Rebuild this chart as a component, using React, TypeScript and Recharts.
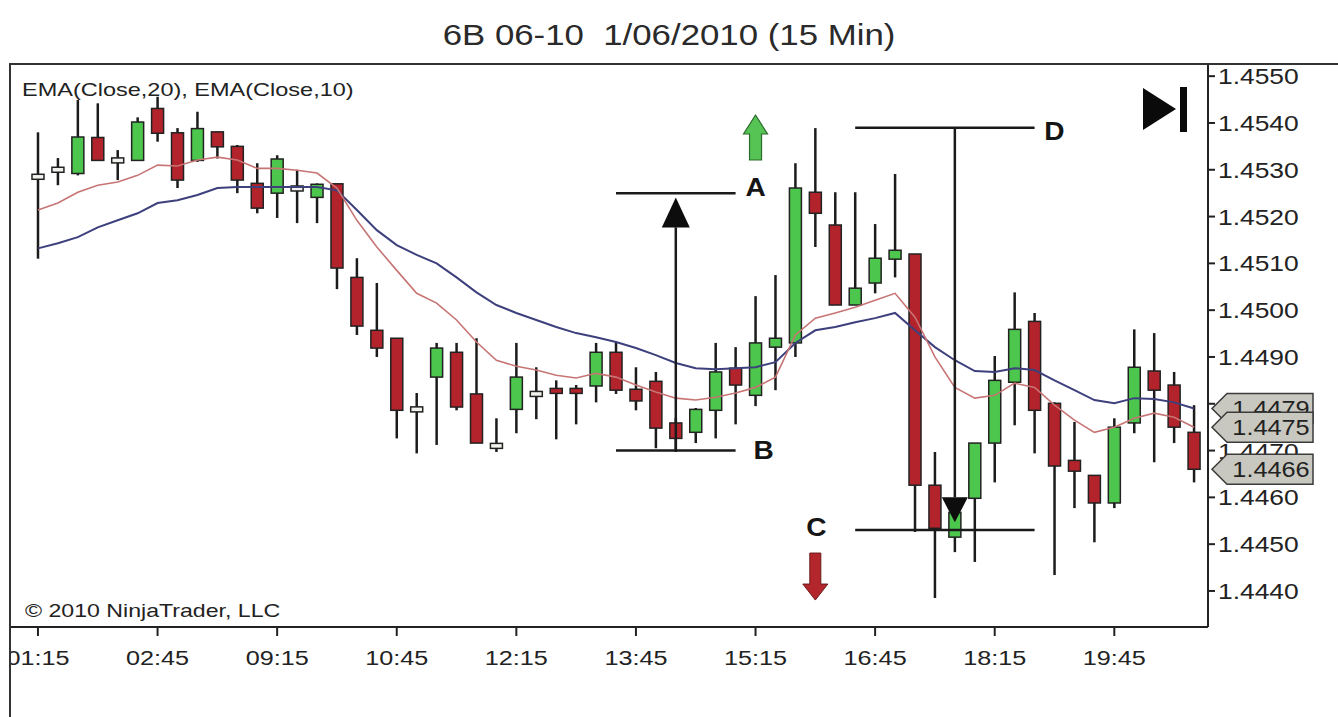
import React from 'react';
import { ComposedChart, Bar, Line, XAxis, YAxis, ReferenceLine, ReferenceDot } from 'recharts';

const FONT = '"Liberation Sans", Arial, sans-serif';

const times = ['01:15','01:30','01:45','02:00','02:15','02:30','02:45','03:00','03:15','03:30','03:45','09:00','09:15','09:30','09:45','10:00','10:15','10:30','10:45','11:00','11:15','11:30','11:45','12:00','12:15','12:30','12:45','13:00','13:15','13:30','13:45','14:00','14:15','14:30','14:45','15:00','15:15','15:30','15:45','16:00','16:15','16:30','16:45','17:00','17:15','17:30','17:45','18:00','18:15','18:30','18:45','19:00','19:15','19:30','19:45','20:00','20:15','20:30','20:45'];

const openP = [1.45285,1.4530,1.45292,1.45369,1.4532,1.4532,1.45431,1.45379,1.4532,1.45381,1.4535,1.45271,1.4525,1.4526,1.45241,1.4527,1.4507,1.44957,1.4494,1.44788,1.44857,1.4491,1.44821,1.4471,1.44788,1.44821,1.4483,1.4483,1.44838,1.4491,1.44831,1.44848,1.44759,1.44739,1.44786,1.44876,1.44818,1.44921,1.4493,1.45252,1.45182,1.45011,1.45058,1.45109,1.4512,1.44626,1.44515,1.44598,1.44716,1.44846,1.44976,1.44801,1.44679,1.44647,1.44588,1.44759,1.4487,1.4484,1.44739];
const highP = [1.4538,1.45325,1.45449,1.45442,1.45342,1.45412,1.45456,1.45389,1.45424,1.45381,1.45353,1.45314,1.45331,1.4530,1.45271,1.4527,1.45111,1.45058,1.4494,1.44823,1.4493,1.4493,1.4494,1.44769,1.4493,1.44878,1.4485,1.4484,1.4493,1.44932,1.44878,1.44868,1.4477,1.44791,1.4493,1.44921,1.4503,1.45075,1.45314,1.45389,1.45252,1.45252,1.45184,1.45291,1.4512,1.44697,1.4458,1.44716,1.44902,1.45038,1.44994,1.44803,1.44761,1.44647,1.44769,1.44959,1.44951,1.44868,1.44797];
const lowP = [1.4511,1.45267,1.45288,1.4532,1.45278,1.4532,1.4536,1.45261,1.45317,1.45324,1.4525,1.45207,1.45197,1.45186,1.45186,1.45045,1.44947,1.4490,1.44726,1.44694,1.44712,1.44786,1.44716,1.44697,1.44737,1.44767,1.44724,1.44756,1.44803,1.44821,1.44786,1.44705,1.44697,1.44716,1.44726,1.44756,1.44795,1.44829,1.4490,1.45135,1.45011,1.45011,1.45036,1.4507,1.44526,1.44385,1.44483,1.44462,1.44632,1.44754,1.44694,1.44434,1.44577,1.44504,1.44577,1.44737,1.44675,1.44716,1.44632];
const closeP = [1.45285,1.4530,1.4537,1.4532,1.4532,1.45402,1.45378,1.45278,1.45388,1.45349,1.45278,1.45218,1.45323,1.4526,1.45269,1.4509,1.44966,1.44919,1.44786,1.44788,1.44919,1.44793,1.44716,1.4471,1.44857,1.44821,1.44825,1.44825,1.4491,1.44829,1.44806,1.44748,1.44726,1.44788,1.44868,1.4484,1.4493,1.4494,1.45261,1.45207,1.45011,1.45047,1.45111,1.45128,1.44626,1.44534,1.44568,1.44716,1.4485,1.44959,1.44786,1.44667,1.44656,1.44588,1.4475,1.44878,1.44829,1.4475,1.4466];
const ema20 = [1.45132,1.45143,1.45156,1.45177,1.45192,1.45207,1.45229,1.45235,1.45246,1.45261,1.45263,1.45263,1.45263,1.45263,1.45263,1.45256,1.45214,1.45171,1.45139,1.45118,1.4510,1.4507,1.45038,1.45011,1.44994,1.44979,1.44964,1.44951,1.44942,1.44932,1.44919,1.44904,1.44887,1.44876,1.44874,1.44876,1.44878,1.44889,1.4493,1.44957,1.44964,1.44974,1.44983,1.44994,1.44957,1.44921,1.44893,1.4487,1.44868,1.44876,1.44872,1.4485,1.44829,1.44808,1.44801,1.44812,1.4481,1.44803,1.4479];
const ema10 = [1.45214,1.45229,1.45252,1.45267,1.45274,1.45288,1.4531,1.45308,1.45321,1.45327,1.45321,1.45303,1.45303,1.45299,1.45293,1.45261,1.45192,1.45135,1.45085,1.45036,1.45015,1.44979,1.44932,1.44893,1.4488,1.44872,1.44861,1.44855,1.44865,1.44857,1.4484,1.44825,1.44812,1.44808,1.44814,1.44823,1.44835,1.44857,1.44947,1.44983,1.44994,1.45006,1.45021,1.45036,1.44985,1.449,1.44835,1.44812,1.44818,1.44844,1.44835,1.44797,1.44765,1.44739,1.4475,1.44769,1.4478,1.44771,1.4475];

const xTickLabels = ['01:15','02:45','09:15','10:45','12:15','13:45','15:15','16:45','18:15','19:45'];
const yTicks = [1.444,1.445,1.446,1.447,1.448,1.449,1.45,1.451,1.452,1.453,1.454,1.455];
const priceTags = [1.4479, 1.4475, 1.4466];

const levelA = 1.4525;
const levelB = 1.4470;
const levelC = 1.4453;
const levelD = 1.4539;

const Y_DOMAIN: [number, number] = [1.44323, 1.45526];
const AXIS_W = 129;

const data = times.map((t, i) => ({
  time: t,
  open: openP[i],
  high: highP[i],
  low: lowP[i],
  close: closeP[i],
  range: [lowP[i], highP[i]],
  ema20: ema20[i],
  ema10: ema10[i],
}));

const Candle = (props: any) => {
  const { x, y, width, height, payload } = props;
  if (!payload) return null;
  const top = Math.min(y, y + height);
  const h = Math.abs(height);
  const { open, close, high, low } = payload;
  const ppp = h / (high - low || 1e-9);
  const cx = x + width / 2;
  let bTop = top + (high - Math.max(open, close)) * ppp;
  let bBot = top + (high - Math.min(open, close)) * ppp;
  let fill = close > open ? '#4cc64c' : '#b3232b';
  if (open === close) fill = '#f2f2ee';
  if (bBot - bTop < 4) {
    const m = (bTop + bBot) / 2;
    bTop = m - 2.5;
    bBot = m + 2.5;
  }
  const bw = 12;
  return (
    <g>
      <line x1={cx} x2={cx} y1={top} y2={top + h} stroke="#1b1b1b" strokeWidth={2.5} />
      <rect x={cx - bw / 2} y={bTop} width={bw} height={bBot - bTop} fill={fill} stroke="#222" strokeWidth={1.5} />
    </g>
  );
};

const XTick = (props: any) => {
  const { x, y, payload } = props;
  return (
    <text transform={`translate(${x},${y}) scale(1.2,1)`} x={0} y={0} dy={27} textAnchor="middle" fontSize={21} fill="#222" fontFamily={FONT}>
      {payload.value}
    </text>
  );
};

const YTick = (props: any) => {
  const { x, y, payload } = props;
  return (
    <text transform={`translate(${x},${y}) scale(1.2,1)`} x={0} y={0} dy={8} textAnchor="start" fontSize={22} fill="#222" fontFamily={FONT}>
      {Number(payload.value).toFixed(4)}
    </text>
  );
};

// Price tag drawn as a tick of an outer thin axis, so it paints above the price-axis labels
const PriceTag = (props: any) => {
  const { x, y, payload } = props;
  const ax = x - AXIS_W - 1;
  const cy = y;
  const x0 = ax + 5;
  const x1 = x0 + 15;
  const x2 = ax + 106;
  const hh = 15;
  return (
    <g>
      <path d={`M${x0},${cy} L${x1},${cy - hh} L${x2},${cy - hh} L${x2},${cy + hh} L${x1},${cy + hh} Z`} fill="#c8c8c0" stroke="#3a3a3a" strokeWidth={1.5} />
      <text transform={`translate(${(x1 + x2) / 2 + 1},${cy}) scale(1.15,1)`} dy={8} textAnchor="middle" fontSize={22} fill="#222" fontFamily={FONT}>
        {Number(payload.value).toFixed(4)}
      </text>
    </g>
  );
};

const LetterLabel = (text: string, dx: number) => (p: any) => (
  <text transform={`translate(${p.cx + dx},${p.cy}) scale(1.08,1)`} dy={9} textAnchor="middle" fontSize={26} fontWeight="bold" fill="#151515" fontFamily={FONT}>
    {text}
  </text>
);

const UpTriangle = (p: any) => (
  <path d={`M${p.cx},${p.cy} L${p.cx + 14},${p.cy + 30} L${p.cx - 14},${p.cy + 30} Z`} fill="#0d0d0d" />
);
const DownTriangle = (p: any) => (
  <path d={`M${p.cx - 13},${p.cy} L${p.cx + 13},${p.cy} L${p.cx},${p.cy + 25} Z`} fill="#0d0d0d" />
);
const GreenArrow = (p: any) => {
  const c = p.cx, t = p.cy, b = t + 45, hh = 19, hw = 12, sw = 6;
  return (
    <path d={`M${c},${t} L${c + hw},${t + hh} L${c + sw},${t + hh} L${c + sw},${b} L${c - sw},${b} L${c - sw},${t + hh} L${c - hw},${t + hh} Z`} fill="#55c455" stroke="#2b6a2b" strokeWidth={1.2} />
  );
};
const RedArrow = (p: any) => {
  const c = p.cx, t = p.cy, b = t + 47, hh = 16, hw = 12.5, sw = 5.5;
  return (
    <path d={`M${c - sw},${t} L${c + sw},${t} L${c + sw},${b - hh} L${c + hw},${b - hh} L${c},${b} L${c - hw},${b - hh} L${c - sw},${b - hh} Z`} fill="#b3262b" stroke="#6a1a1a" strokeWidth={1} />
  );
};

export default function App() {
  return (
    <div style={{ position: 'absolute', left: 0, top: 0, width: 1338, height: 717, background: '#fff', fontFamily: FONT, overflow: 'hidden' }}>
      <div style={{ position: 'absolute', left: 0, top: 19, width: 1338, textAlign: 'center', fontSize: 29, color: '#2a2a2a', transform: 'scaleX(1.2)', whiteSpace: 'pre' }}>
        {'6B 06-10  1/06/2010 (15 Min)'}
      </div>
      <ComposedChart width={1338} height={717} data={data} margin={{ top: 64, right: 0, bottom: 40, left: 10 }} style={{ position: 'absolute', left: 0, top: 0 }}>
        <XAxis
          dataKey="time"
          type="category"
          ticks={xTickLabels}
          interval={0}
          padding={{ left: 18, right: 4 }}
          height={50}
          axisLine={{ stroke: '#222', strokeWidth: 2 }}
          tickLine={{ stroke: '#222', strokeWidth: 2 }}
          tickSize={9}
          tick={<XTick />}
        />
        <YAxis
          orientation="right"
          type="number"
          domain={Y_DOMAIN}
          allowDataOverflow
          ticks={yTicks}
          interval={0}
          width={AXIS_W}
          axisLine={{ stroke: '#222', strokeWidth: 2 }}
          tickLine={{ stroke: '#222', strokeWidth: 2 }}
          tickSize={7}
          tickMargin={3}
          tick={<YTick />}
        />
        <YAxis
          yAxisId="tags"
          orientation="right"
          type="number"
          domain={Y_DOMAIN}
          allowDataOverflow
          ticks={priceTags}
          interval={0}
          width={1}
          axisLine={false}
          tickLine={false}
          tickSize={0}
          tickMargin={0}
          tick={<PriceTag />}
        />
        <Bar dataKey="range" shape={Candle} isAnimationActive={false} />
        <Line dataKey="ema20" type="linear" stroke="#3d407c" strokeWidth={2} dot={false} activeDot={false} isAnimationActive={false} />
        <Line dataKey="ema10" type="linear" stroke="#c77474" strokeWidth={1.6} dot={false} activeDot={false} isAnimationActive={false} />

        <ReferenceLine segment={[{ x: times[29], y: levelA }, { x: times[35], y: levelA }]} stroke="#1a1a1a" strokeWidth={2.5} />
        <ReferenceLine segment={[{ x: times[29], y: levelB }, { x: times[35], y: levelB }]} stroke="#1a1a1a" strokeWidth={2.5} />
        <ReferenceLine segment={[{ x: times[41], y: levelC }, { x: times[50], y: levelC }]} stroke="#1a1a1a" strokeWidth={2.5} />
        <ReferenceLine segment={[{ x: times[41], y: levelD }, { x: times[50], y: levelD }]} stroke="#1a1a1a" strokeWidth={2.5} />
        <ReferenceLine segment={[{ x: times[32], y: levelB }, { x: times[32], y: 1.45177 }]} stroke="#1a1a1a" strokeWidth={2.5} />
        <ReferenceLine segment={[{ x: times[46], y: levelD }, { x: times[46], y: 1.4460 }]} stroke="#1a1a1a" strokeWidth={2.5} />

        <ReferenceDot x={times[32]} y={1.45241} shape={UpTriangle} />
        <ReferenceDot x={times[46]} y={1.4460} shape={DownTriangle} />
        <ReferenceDot x={times[36]} y={1.45417} shape={GreenArrow} />
        <ReferenceDot x={times[39]} y={1.44481} shape={RedArrow} />
        <ReferenceDot x={times[36]} y={1.45263} shape={LetterLabel('A', 0)} />
        <ReferenceDot x={times[36]} y={1.44701} shape={LetterLabel('B', 8)} />
        <ReferenceDot x={times[39]} y={1.44536} shape={LetterLabel('C', 1)} />
        <ReferenceDot x={times[51]} y={1.45382} shape={LetterLabel('D', 0)} />
      </ComposedChart>
      <div style={{ position: 'absolute', left: 0, top: 0, width: 9, height: 717, background: '#fff' }} />
      <div style={{ position: 'absolute', left: 10, top: 63, width: 1328, height: 2, background: '#333' }} />
      <div style={{ position: 'absolute', left: 9, top: 63, width: 2, height: 654, background: '#333' }} />
      <div style={{ position: 'absolute', left: 22, top: 79, fontSize: 18.5, color: '#222', transform: 'scaleX(1.27)', transformOrigin: 'left center', whiteSpace: 'pre' }}>
        EMA(Close,20), EMA(Close,10)
      </div>
      <div style={{ position: 'absolute', left: 25, top: 600, fontSize: 18.5, color: '#222', transform: 'scaleX(1.25)', transformOrigin: 'left center', whiteSpace: 'pre' }}>
        © 2010 NinjaTrader, LLC
      </div>
      <svg style={{ position: 'absolute', left: 0, top: 0 }} width={1338} height={717} pointerEvents="none">
        <path d="M1143,88 L1143,130 L1176,109 Z" fill="#0a0a0a" />
        <rect x={1180} y={87} width={7} height={45} fill="#0a0a0a" />
      </svg>
    </div>
  );
}
